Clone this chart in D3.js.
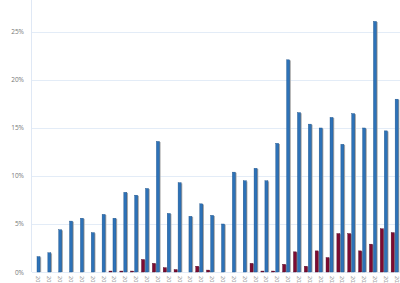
<!DOCTYPE html>
<html>
<head>
<meta charset="utf-8">
<script src="https://cdn.jsdelivr.net/npm/d3@7"></script>
<style>
body { margin: 0; background: #fff; }
svg { display: block; font-family: "Open Sans", "DejaVu Sans", sans-serif; }
</style>
</head>
<body>
<div id="viz"></div>
<script>
var W = 400, H = 283;

// categories (monthly periods, labels cut at the bottom edge)
var categories = [];
for (var i = 0; i < 34; i++) {
    var yr = 2018 + Math.floor(i / 12), mo = (i % 12) + 1;
    categories.push(yr + "-" + (mo < 10 ? "0" + mo : mo));
}
var blueValues = [1.6, 2.0, 4.4, 5.3, 5.6, 4.1, 6.0, 5.6, 8.3, 8.0,
                  8.7, 13.6, 6.1, 9.3, 5.8, 7.1, 5.9, 5.0, 10.4, 9.5,
                  10.8, 9.5, 13.4, 22.1, 16.6, 15.4, 15.0, 16.1, 13.3, 16.5,
                  15.0, 26.1, 14.7, 18.0];
var redValues = [0, 0, 0, 0, 0, 0, 0, 0.1, 0.1, 0.1,
                 1.3, 0.9, 0.45, 0.25, 0, 0.6, 0.2, 0, 0, 0,
                 0.9, 0.1, 0.1, 0.8, 2.1, 0.6, 2.2, 1.5, 4.0, 4.0,
                 2.2, 2.9, 4.5, 4.1];
var yTicks = [0, 5, 10, 15, 20, 25];

var padL = 32, padR = 401, padT = 0, padB = 272;

var s = d3.select("#viz").append("svg")
    .attr("width", W)
    .attr("height", H);

var x = d3.scaleBand().domain(categories).range([padL, padR]);
var yS = d3.scaleLinear().domain([0, 28.33]).range([padB, padT]);
var bw = x.bandwidth();

// grid
s.append("g").selectAll("line").data(yTicks).enter().append("line")
    .attr("x1", padL).attr("x2", W)
    .attr("y1", function(d){ return Math.round(yS(d)) + 0.5; })
    .attr("y2", function(d){ return Math.round(yS(d)) + 0.5; })
    .style("stroke", "#e3ecf7")
    .style("stroke-width", 1);

s.append("line")
    .attr("x1", padL - 0.5).attr("x2", padL - 0.5)
    .attr("y1", 0).attr("y2", padB)
    .style("stroke", "#dfe8f5");

// y labels
s.append("g").selectAll("text").data(yTicks).enter().append("text")
    .attr("x", 24)
    .attr("y", function(d){ return yS(d) + 2.5; })
    .attr("text-anchor", "end")
    .style("font-size", "6.5px")
    .style("fill", "#777")
    .text(function(d){ return d + "%"; });

function bars(vals, off, fill, edge){
    // gray shadow on the right side
    s.append("g").selectAll("rect").data(vals).enter().append("rect")
        .attr("x", function(d, i){ return x(categories[i]) + off + 1.2; })
        .attr("y", function(d){ return yS(d) + 0.6; })
        .attr("width", d => d > 0 ? 3 : 0)
        .attr("height", function(d){ return Math.max(0, padB - yS(d) - 0.6); })
        .style("fill", "#aaa");
    s.append("g").selectAll("rect").data(vals).enter().append("rect")
        .attr("x", function(d, i){ return x(categories[i]) + off; })
        .attr("y", function(d){ return yS(d); })
        .attr("width", d => d > 0 ? 3 : 0)
        .attr("height", function(d){ return padB - yS(d); })
        .style("fill", fill)
        .style("stroke", edge)
        .style("stroke-width", 0.4);
}
bars(redValues, 1, "#7d0b32", "#4a0620");
bars(blueValues, 5, "#2d72b8", "#1b4f86");

// x labels (rotated, clipped by the bottom edge)
s.append("g").selectAll("text").data(categories).enter().append("text")
    .attr("transform", function(d){ return "translate(" + (x(d) + bw / 2 + 1) + "," + 276 + ") rotate(90)"; })
    .attr("text-anchor", "start")
    .attr("dy", "0.35em")
    .style("font-size", "5.5px")
    .style("fill", "#888")
    .text(function(d){ return d; });
</script>
</body>
</html>
